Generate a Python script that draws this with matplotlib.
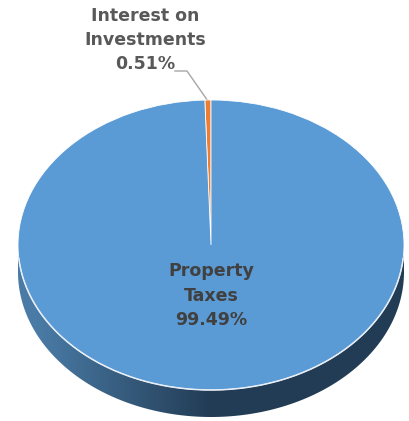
import numpy as np
import matplotlib.pyplot as plt
from matplotlib.patches import Polygon

labels = ['Interest on\nInvestments', 'Property\nTaxes']
shares = [0.51, 99.49]
colors = ['#ed7d31', '#5b9bd5']

W, H = 409, 421
cx, cy = 211, 245      # centre of top face (pixels, y down)
rx, ry = 193, 145
depth = 27

fig = plt.figure(figsize=(W / 100, H / 100), dpi=100)
bg = fig.add_axes([0, 0, 1, 1])
bg.set_xlim(0, W)
bg.set_ylim(H, 0)
bg.axis('off')

# side of the 3d pie: lower half of the ellipse pushed down by depth
t = np.linspace(0, np.pi, 200)
top_x = cx + rx * np.cos(t)
top_y = cy + ry * np.sin(t)
side = np.vstack([np.column_stack([top_x, top_y + depth]),
                  np.column_stack([top_x[::-1], top_y[::-1]])])
poly = Polygon(side, closed=True, facecolor='none', edgecolor='none')
bg.add_patch(poly)
grad = np.linspace(0, 1, 256)
shade = np.clip((grad - 0.05) / 0.45, 0, 1)
c0 = np.array([0x4a, 0x7b, 0xa6]) / 255
c1 = np.array([0x22, 0x3c, 0x55]) / 255
img = c0[None, :] * (1 - shade[:, None]) + c1[None, :] * shade[:, None]
im = bg.imshow(img[None, :, :], extent=[cx - rx, cx + rx, cy + ry + depth, cy],
               aspect='auto', zorder=1)
im.set_clip_path(poly)

# top face
ax = fig.add_axes([(cx - rx) / W, (H - cy - ry) / H, 2 * rx / W, 2 * ry / H])
wedges, _ = ax.pie(shares, colors=colors, startangle=90, radius=1,
                   wedgeprops=dict(edgecolor='white', linewidth=0.6))
ax.set_aspect('auto')
ax.set_xlim(-1, 1)
ax.set_ylim(-1, 1)
ax.axis('off')
# light rim between top face and side
rim = np.linspace(np.pi * 1.03, np.pi * 1.97, 200)
ax.plot(np.cos(rim), np.sin(rim), color='#e8eef5', lw=1.1, clip_on=False)

# labels
txt = dict(ha='center', va='center', fontsize=12.5, fontweight='bold',
           color='#404040', linespacing=1.45)
ax.text(0, -0.35, f'{labels[1]}\n{shares[1]:.2f}%', **txt)

mid = np.deg2rad(90 + shares[0] / 100 * 360 / 2)
px, py = cx + rx * np.cos(mid), cy - ry * np.sin(mid)
bg.plot([175, 187, px], [71, 71, py + 1], color='#a6a6a6', lw=1, zorder=3)
bg.text(145, 40, f'{labels[0]}\n{shares[0]:.2f}%', **dict(txt, color='#595959'))

fig.savefig('out.png', dpi=100)
